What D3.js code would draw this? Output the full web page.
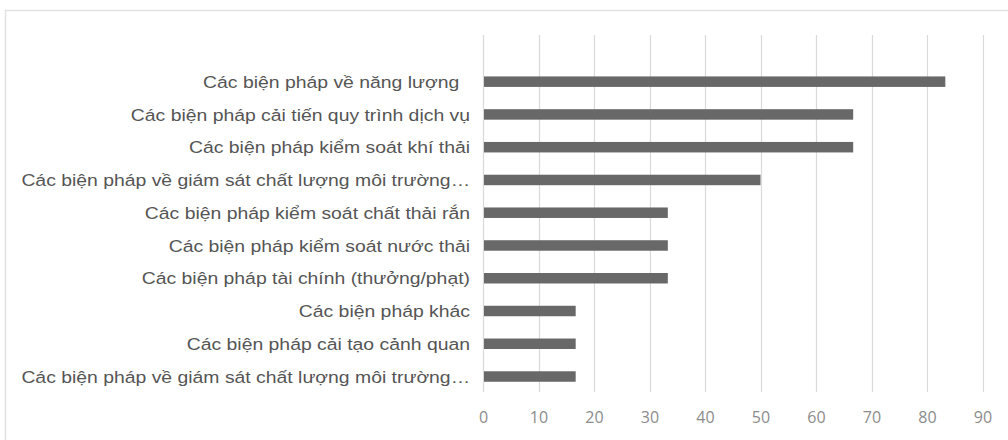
<!DOCTYPE html>
<html>
<head>
<meta charset="utf-8">
<script src="https://cdn.jsdelivr.net/npm/d3@7"></script>
<style>
  html, body { margin: 0; padding: 0; background: #ffffff; }
  svg { display: block; }
</style>
</head>
<body>
<svg id="chart" width="1008" height="440"></svg>
<script>
const categories = [
  "Các biện pháp về năng lượng  ",
  "Các biện pháp cải tiến quy trình dịch vụ",
  "Các biện pháp kiểm soát khí thải",
  "Các biện pháp về giám sát chất lượng môi trường…",
  "Các biện pháp kiểm soát chất thải rắn",
  "Các biện pháp kiểm soát nước thải",
  "Các biện pháp tài chính (thưởng/phạt)",
  "Các biện pháp khác",
  "Các biện pháp cải tạo cảnh quan",
  "Các biện pháp về giám sát chất lượng môi trường…"
];
const values = [83.3, 66.7, 66.7, 50, 33.3, 33.3, 33.3, 16.7, 16.7, 16.7];
const xTicks = [0, 10, 20, 30, 40, 50, 60, 70, 80, 90];

const svg = d3.select("#chart");

// chart border
svg.append("rect")
  .attr("x", 5.5).attr("y", 10.5)
  .attr("width", 1010).attr("height", 440)
  .attr("fill", "#ffffff")
  .attr("stroke", "#e2e2e2")
  .attr("stroke-width", 1.5);

const x = d3.scaleLinear().domain([0, 90]).range([483, 982.5]);
const y = d3.scaleBand().domain(d3.range(categories.length)).range([65.3, 392.9]).paddingInner(0.68).paddingOuter(0.34);

const gridTop = 35, gridBottom = 392;

// gridlines
svg.append("g")
  .selectAll("line")
  .data(xTicks)
  .join("line")
  .attr("x1", d => Math.round(x(d)) + 0.5)
  .attr("x2", d => Math.round(x(d)) + 0.5)
  .attr("y1", gridTop)
  .attr("y2", gridBottom)
  .attr("stroke", "#d9d9d9")
  .attr("stroke-width", 1.2);

// bars
svg.append("g")
  .selectAll("rect")
  .data(values)
  .join("rect")
  .attr("x", x(0) + 1)
  .attr("y", (d, i) => y(i))
  .attr("width", d => x(d) - x(0) - 1)
  .attr("height", y.bandwidth())
  .attr("fill", "#686868");

// category labels (slightly wide, as in the scanned original)
svg.append("g")
  .attr("transform", "translate(470,0) scale(1.14,1)")
  .selectAll("text")
  .data(categories)
  .join("text")
  .attr("x", 0)
  .attr("y", (d, i) => y(i) + y.bandwidth() / 2)
  .attr("dy", "0.36em")
  .attr("text-anchor", "end")
  .attr("font-family", "'Liberation Sans', Arial, sans-serif")
  .attr("font-size", 17)
  .attr("fill", "#555555")
  .style("white-space", "pre")
  .text(d => d);

// x axis tick labels
const xAxis = d3.axisBottom(x).tickValues(xTicks).tickSize(0).tickPadding(0);
const gAxis = svg.append("g")
  .attr("transform", `translate(0, 412)`)
  .call(xAxis);
gAxis.select(".domain").remove();
gAxis.selectAll("text")
  .attr("font-family", "'Open Sans', sans-serif")
  .attr("font-size", 16)
  .attr("fill", "#8c8c8c");
</script>
</body>
</html>
